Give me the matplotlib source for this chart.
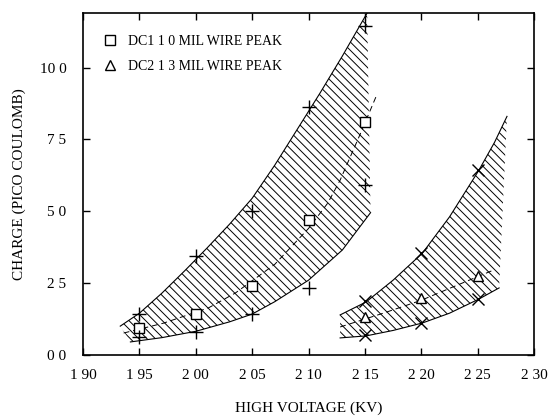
import matplotlib
matplotlib.use('Agg')
import matplotlib.pyplot as plt
import numpy as np

plt.rcParams['font.family'] = ['Liberation Serif', 'DejaVu Serif']
plt.rcParams['hatch.linewidth'] = 0.7

# measured points (high voltage in KV, charge in pC)
dc1_v = [1.95, 2.00, 2.05, 2.10, 2.15]
dc1_peak = [0.94, 1.42, 2.40, 4.69, 8.09]
dc1_hi = [1.42, 3.45, 5.00, 8.61, 11.46]
dc1_lo = [0.63, 0.80, 1.42, 2.33, 5.90]

dc2_v = [2.15, 2.20, 2.25]
dc2_peak = [1.33, 1.98, 2.76]
dc2_hi = [1.86, 3.54, 6.42]
dc2_lo = [0.68, 1.10, 1.94]

# envelope curves
dc1_up_x = [1.933, 1.95, 1.97, 1.99, 2.01, 2.03, 2.05, 2.07, 2.09, 2.11, 2.13, 2.152]
dc1_up_y = [1.00, 1.45, 2.15, 2.92, 3.72, 4.55, 5.45, 6.60, 7.85, 9.10, 10.4, 11.9]
dc1_dn_x = [1.942, 1.97, 2.00, 2.03, 2.05, 2.07, 2.10, 2.13, 2.155]
dc1_dn_y = [0.45, 0.60, 0.82, 1.15, 1.42, 1.85, 2.60, 3.65, 4.95]
dc1_mid_x = [1.936, 1.971, 2.011, 2.035, 2.07, 2.10, 2.117, 2.128, 2.146, 2.16]
dc1_mid_y = [0.76, 1.10, 1.63, 2.15, 3.15, 4.40, 5.28, 6.08, 7.70, 9.00]

dc2_up_x = [2.128, 2.151, 2.175, 2.201, 2.225, 2.251, 2.265, 2.276]
dc2_up_y = [1.39, 1.84, 2.60, 3.54, 4.80, 6.42, 7.40, 8.30]
dc2_dn_x = [2.128, 2.151, 2.175, 2.201, 2.225, 2.251, 2.269]
dc2_dn_y = [0.59, 0.66, 0.85, 1.11, 1.45, 1.94, 2.33]
dc2_mid_x = [2.128, 2.167, 2.20, 2.226, 2.264]
dc2_mid_y = [0.97, 1.46, 1.90, 2.33, 2.95]

xticks = [1.90, 1.95, 2.00, 2.05, 2.10, 2.15, 2.20, 2.25, 2.30]
xticklabels = ['1 90', '1 95', '2 00', '2 05', '2 10', '2 15', '2 20', '2 25', '2 30']
yticks = [0.0, 2.5, 5.0, 7.5, 10.0]
yticklabels = ['0 0', '2 5', '5 0', '7 5', '10 0']

fig = plt.figure(figsize=(5.5, 4.17), dpi=100)
ax = fig.add_axes([0.151, 0.149, 0.820, 0.820])


def band(up_x, up_y, dn_x, dn_y):
    # hatched region between the two envelope curves
    px = list(up_x) + list(dn_x[::-1])
    py = list(up_y) + list(dn_y[::-1])
    ax.fill(px, py, facecolor='none', edgecolor='black', linewidth=0, hatch='\\\\\\\\')
    ax.plot(up_x, up_y, color='black', lw=0.8)
    ax.plot(dn_x, dn_y, color='black', lw=0.8)


band(dc1_up_x, dc1_up_y, dc1_dn_x, dc1_dn_y)
band(dc2_up_x, dc2_up_y, dc2_dn_x, dc2_dn_y)

ax.plot(dc1_mid_x, dc1_mid_y, color='black', lw=0.7, dashes=(6, 4))
ax.plot(dc2_mid_x, dc2_mid_y, color='black', lw=0.7, dashes=(6, 4))

ax.plot(dc1_v, dc1_peak, 's', ms=7, mfc='white', mec='black', mew=1.0, ls='none',
        label='DC1 1 0 MIL WIRE PEAK')
ax.plot(dc2_v, dc2_peak, '^', ms=7, mfc='white', mec='black', mew=1.0, ls='none',
        label='DC2 1 3 MIL WIRE PEAK')
ax.plot(dc1_v, dc1_hi, '+', ms=10, color='black', mew=1.0, ls='none')
ax.plot(dc1_v, dc1_lo, '+', ms=10, color='black', mew=1.0, ls='none')
ax.plot(dc2_v, dc2_hi, 'x', ms=8, color='black', mew=1.0, ls='none')
ax.plot(dc2_v, dc2_lo, 'x', ms=8, color='black', mew=1.0, ls='none')

ax.set_xlim(1.90, 2.30)
ax.set_ylim(0, 11.9)
ax.set_xticks(xticks)
ax.set_xticklabels(xticklabels, fontsize=11)
ax.set_yticks(yticks)
ax.set_yticklabels(yticklabels, fontsize=11)
ax.tick_params(axis='x', direction='in', length=5, width=1.0, top=True, pad=10)
ax.tick_params(axis='y', direction='in', length=5, width=1.0, right=True, pad=12)
for s in ax.spines.values():
    s.set_linewidth(1.2)

ax.set_xlabel('HIGH VOLTAGE (KV)', fontsize=11, labelpad=14)
ax.set_ylabel('CHARGE (PICO COULOMB)', fontsize=11, labelpad=10)

ax.legend(loc='upper left', bbox_to_anchor=(0.032, 0.952), frameon=False, fontsize=10,
          handlelength=1.0, handletextpad=0.8, borderaxespad=0, labelspacing=0.85)

fig.savefig('out.png', dpi=100)
